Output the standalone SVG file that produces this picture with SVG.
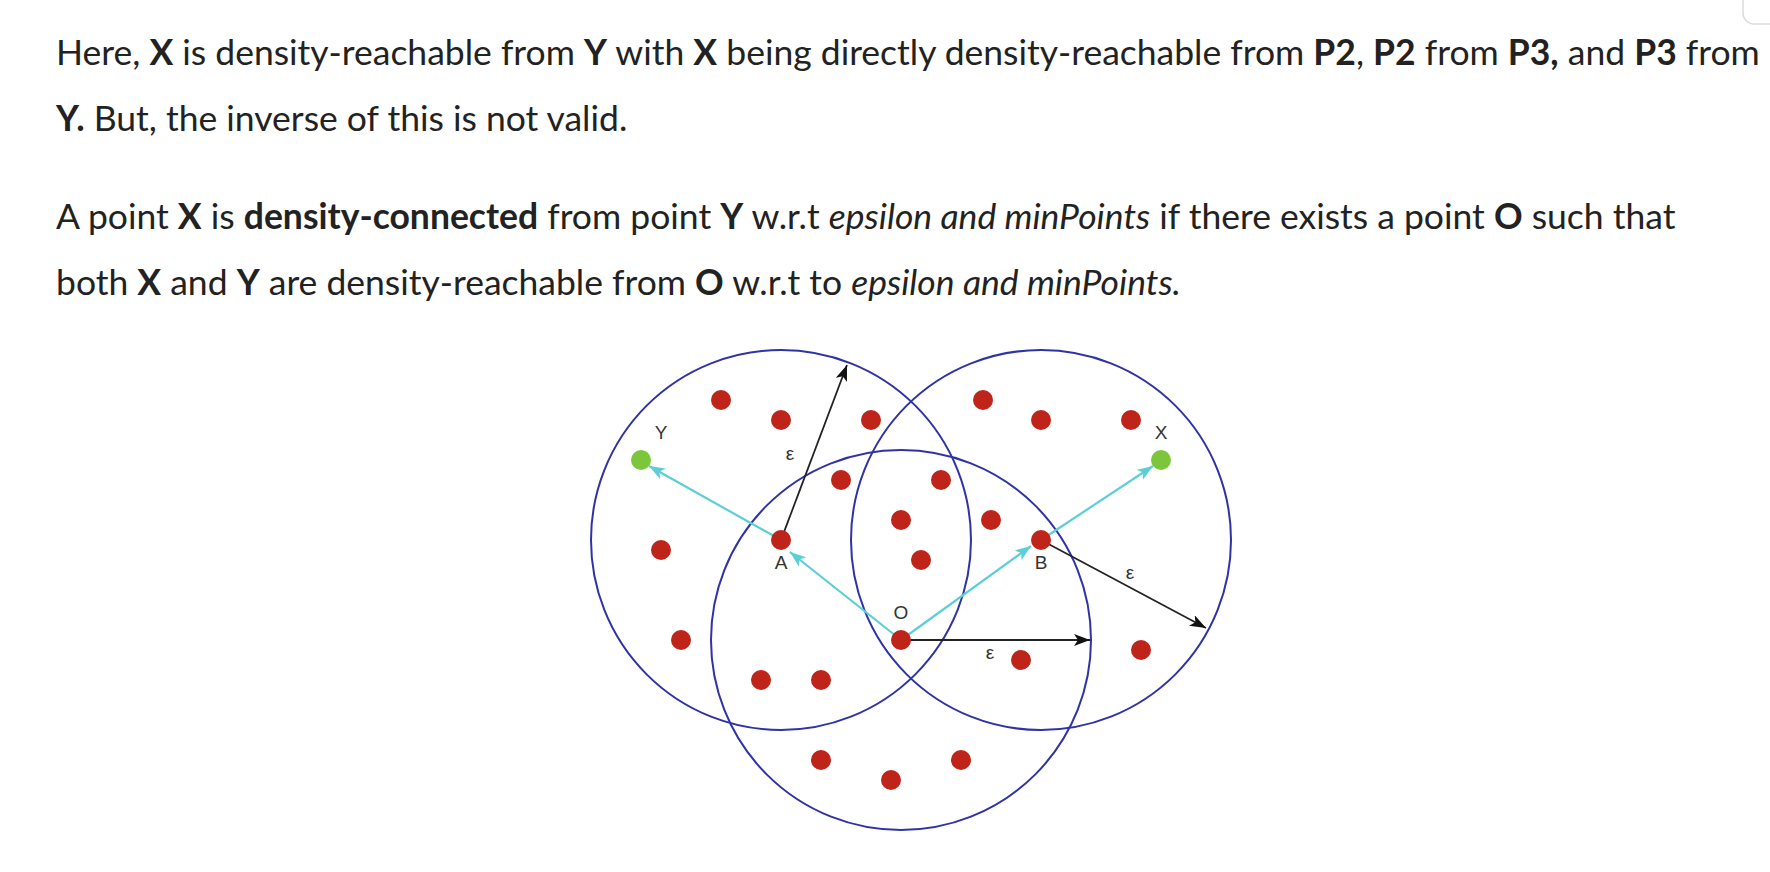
<svg xmlns="http://www.w3.org/2000/svg" width="1770" height="872" viewBox="0 0 1770 872">
<defs>
<style>
.para{font-family:Lato,"Noto Sans","Liberation Sans",sans-serif;font-size:35.5px;fill:#222;}
.b{font-weight:bold;}
.i{font-style:italic;}
.ring{fill:none;stroke:#2f33a6;stroke-width:2;}
.dot{fill:#bf241a;}
.gdot{fill:#7cc63c;}
.reach{stroke:#5ccfd6;stroke-width:2.2;fill:none;}
.eps{stroke:#222;stroke-width:1.8;fill:none;}
.lbl{font-family:"Liberation Sans",Arial,sans-serif;font-size:19px;fill:#333;text-anchor:middle;}
</style>
<marker id="ac" markerUnits="userSpaceOnUse" markerWidth="18" markerHeight="14" refX="16" refY="6" orient="auto">
<path d="M0,0 L16,6 L0,12 L4,6 Z" fill="#5ccfd6"/>
</marker>
<marker id="ak" markerUnits="userSpaceOnUse" markerWidth="18" markerHeight="14" refX="16" refY="6" orient="auto">
<path d="M0,0 L16,6 L0,12 L4,6 Z" fill="#111"/>
</marker>
</defs>
<rect width="1770" height="872" fill="#fff"/>
<rect x="1743" y="-20" width="60" height="44" rx="11" fill="none" stroke="#dcdce0" stroke-width="1.5"/>
<g id="text">
<text class="para" x="56" y="65">Here, <tspan class="b">X</tspan> is density-reachable from <tspan class="b">Y</tspan> with <tspan class="b">X</tspan> being directly density-reachable from <tspan class="b">P2</tspan>, <tspan class="b">P2</tspan> from <tspan class="b">P3,</tspan> and <tspan class="b">P3</tspan> from</text>
<text class="para" x="56" y="131"><tspan class="b">Y.</tspan> But, the inverse of this is not valid.</text>
<text class="para" x="56" y="229">A point <tspan class="b">X</tspan> is <tspan class="b">density-connected</tspan> from point <tspan class="b">Y</tspan> w.r.t <tspan class="i">epsilon and minPoints</tspan> if there exists a point <tspan class="b">O</tspan> such that</text>
<text class="para" x="56" y="295">both <tspan class="b">X</tspan> and <tspan class="b">Y</tspan> are density-reachable from <tspan class="b">O</tspan> w.r.t to <tspan class="i">epsilon and minPoints.</tspan></text>
</g>
<g id="circles">
<circle id="circle-A" class="ring" cx="781" cy="540" r="190"/>
<circle id="circle-B" class="ring" cx="1041" cy="540" r="190"/>
<circle id="circle-O" class="ring" cx="901" cy="640" r="190"/>
</g>
<g id="connectors">
<line class="reach" x1="901" y1="640" x2="790" y2="552" marker-end="url(#ac)"/>
<line class="reach" x1="781" y1="540" x2="649" y2="466" marker-end="url(#ac)"/>
<line class="reach" x1="901" y1="640" x2="1031" y2="546" marker-end="url(#ac)"/>
<line class="reach" x1="1041" y1="540" x2="1153" y2="466" marker-end="url(#ac)"/>
<line class="eps" x1="781" y1="540" x2="847" y2="365" marker-end="url(#ak)"/>
<line class="eps" x1="1041" y1="540" x2="1206" y2="628" marker-end="url(#ak)"/>
<line class="eps" x1="901" y1="640" x2="1090" y2="640" marker-end="url(#ak)"/>
</g>
<g id="points">
<circle class="dot" cx="721" cy="400" r="10"/>
<circle class="dot" cx="781" cy="420" r="10"/>
<circle class="dot" cx="871" cy="420" r="10"/>
<circle class="dot" cx="983" cy="400" r="10"/>
<circle class="dot" cx="1041" cy="420" r="10"/>
<circle class="dot" cx="1131" cy="420" r="10"/>
<circle class="dot" cx="841" cy="480" r="10"/>
<circle class="dot" cx="941" cy="480" r="10"/>
<circle class="dot" cx="901" cy="520" r="10"/>
<circle class="dot" cx="991" cy="520" r="10"/>
<circle class="dot" cx="921" cy="560" r="10"/>
<circle class="dot" cx="661" cy="550" r="10"/>
<circle class="dot" cx="681" cy="640" r="10"/>
<circle class="dot" cx="761" cy="680" r="10"/>
<circle class="dot" cx="821" cy="680" r="10"/>
<circle class="dot" cx="1021" cy="660" r="10"/>
<circle class="dot" cx="1141" cy="650" r="10"/>
<circle class="dot" cx="821" cy="760" r="10"/>
<circle class="dot" cx="891" cy="780" r="10"/>
<circle class="dot" cx="961" cy="760" r="10"/>
</g>
<g id="node-A"><circle class="dot" cx="781" cy="540" r="10"/><text class="lbl" x="781" y="569">A</text></g>
<g id="node-B"><circle class="dot" cx="1041" cy="540" r="10"/><text class="lbl" x="1041" y="569">B</text></g>
<g id="node-O"><circle class="dot" cx="901" cy="640" r="10"/><text class="lbl" x="901" y="619">O</text></g>
<g id="node-Y"><circle class="gdot" cx="641" cy="460" r="10"/><text class="lbl" x="661" y="439">Y</text></g>
<g id="node-X"><circle class="gdot" cx="1161" cy="460" r="10"/><text class="lbl" x="1161" y="439">X</text></g>
<g id="eps-labels">
<text class="lbl" x="790" y="460">ε</text>
<text class="lbl" x="1130" y="579">ε</text>
<text class="lbl" x="990" y="659">ε</text>
</g>
</svg>
